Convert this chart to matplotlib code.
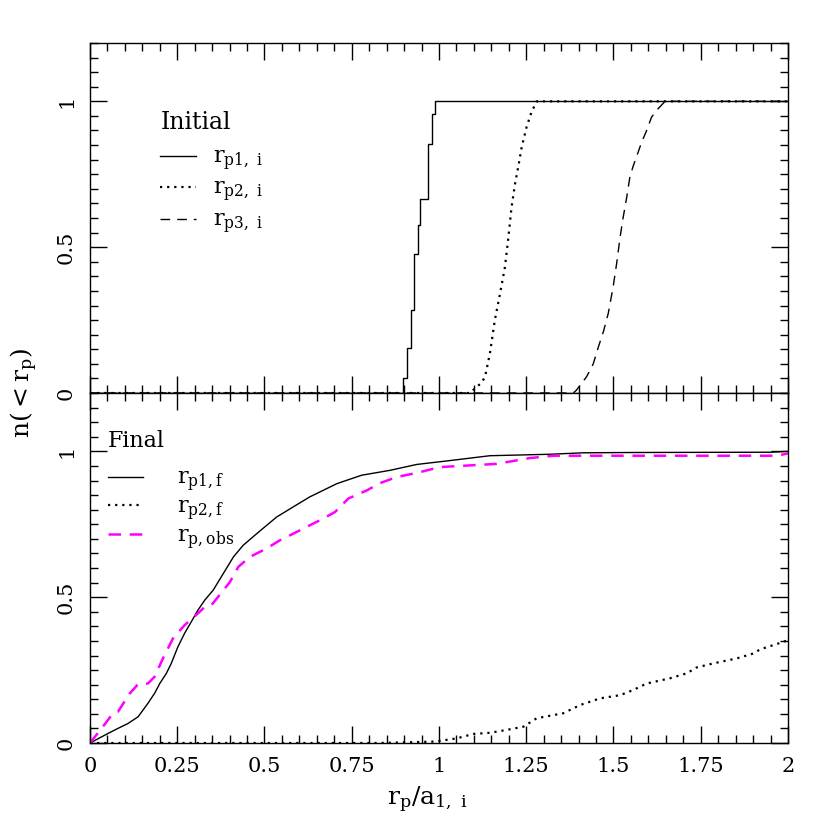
import numpy as np
import matplotlib
matplotlib.use('Agg')
from matplotlib import pyplot as plt
from matplotlib.ticker import MultipleLocator

plt.rcParams['font.family'] = ['DejaVu Serif']
plt.rcParams['mathtext.fontset'] = 'dejavuserif'

# top panel: initial distributions (step positions, cumulative fraction)
p1i_x = [0, 0.898, 0.907, 0.919, 0.928, 0.939, 0.947, 0.969, 0.979, 0.989, 2.0]
p1i_y = [0, 0.05, 0.156, 0.284, 0.478, 0.575, 0.664, 0.855, 0.958, 1.0, 1.0]

p2i_x = [0, 1.09, 1.103, 1.122, 1.132, 1.146, 1.160, 1.175, 1.189, 1.199, 1.208,
         1.218, 1.227, 1.237, 1.251, 1.265, 1.280, 2.0]
p2i_y = [0, 0, 0.016, 0.035, 0.056, 0.136, 0.25, 0.341, 0.432, 0.535, 0.638,
         0.718, 0.775, 0.843, 0.912, 0.963, 1.0, 1.0]

p3i_x = [0, 1.385, 1.394, 1.423, 1.442, 1.457, 1.471, 1.485, 1.499, 1.509, 1.519,
         1.528, 1.538, 1.547, 1.557, 1.566, 1.581, 1.595, 1.609, 1.628, 1.648, 2.0]
p3i_y = [0, 0, 0.01, 0.056, 0.10, 0.159, 0.21, 0.273, 0.364, 0.444, 0.535,
         0.604, 0.672, 0.741, 0.78, 0.81, 0.861, 0.90, 0.946, 0.975, 1.0, 1.0]

# bottom panel: final distributions
p1f_x = [0, 0.052, 0.080, 0.109, 0.138, 0.166, 0.185, 0.200, 0.219, 0.233, 0.252,
         0.271, 0.290, 0.309, 0.329, 0.353, 0.382, 0.411, 0.439, 0.478, 0.535,
         0.583, 0.630, 0.707, 0.778, 0.860, 0.936, 1.022, 1.146, 1.318, 1.414,
         1.55, 1.95, 2.0]
p1f_y = [0, 0.033, 0.050, 0.067, 0.090, 0.136, 0.170, 0.204, 0.239, 0.273, 0.330,
         0.376, 0.415, 0.455, 0.490, 0.524, 0.581, 0.638, 0.678, 0.718, 0.775,
         0.810, 0.844, 0.889, 0.918, 0.935, 0.955, 0.967, 0.985, 0.990, 0.995,
         0.996, 0.997, 1.0]

p2f_x = [0, 0.83, 0.99, 1.051, 1.098, 1.146, 1.194, 1.242, 1.280, 1.356, 1.404,
         1.461, 1.519, 1.557, 1.595, 1.662, 1.710, 1.738, 1.786, 1.853, 1.901,
         1.920, 1.987, 2.0]
p2f_y = [0, 0, 0.005, 0.016, 0.031, 0.035, 0.045, 0.056, 0.085, 0.102, 0.130,
         0.153, 0.164, 0.182, 0.204, 0.222, 0.239, 0.259, 0.273, 0.290, 0.307,
         0.321, 0.347, 0.353]

obs_x = [0, 0.037, 0.066, 0.080, 0.114, 0.138, 0.166, 0.185, 0.209, 0.238, 0.271,
         0.309, 0.329, 0.348, 0.367, 0.401, 0.425, 0.458, 0.506, 0.544, 0.583,
         0.621, 0.669, 0.702, 0.740, 0.793, 0.831, 0.879, 0.936, 1.003, 1.165,
         1.261, 1.33, 1.97, 2.0]
obs_y = [0, 0.056, 0.102, 0.107, 0.170, 0.202, 0.204, 0.227, 0.290, 0.359, 0.404,
         0.444, 0.467, 0.473, 0.501, 0.552, 0.604, 0.638, 0.667, 0.695, 0.718,
         0.741, 0.770, 0.792, 0.838, 0.866, 0.891, 0.912, 0.926, 0.946, 0.957,
         0.977, 0.985, 0.985, 0.993]

xticks = [0, 0.25, 0.5, 0.75, 1, 1.25, 1.5, 1.75, 2]
xtick_labels = ['0', '0.25', '0.5', '0.75', '1', '1.25', '1.5', '1.75', '2']
yticks = [0, 0.5, 1]
ytick_labels = ['0', '0.5', '1']

fig = plt.figure(figsize=(8.3, 8.3), dpi=100)
ax1 = fig.add_axes([0.1084, 0.5265, 0.841, 0.4217])
ax2 = fig.add_axes([0.1084, 0.1048, 0.841, 0.4217], sharex=ax1)

ax1.plot(p1i_x, p1i_y, color='k', lw=1.0, drawstyle='steps-post', label=r'$\mathrm{r_{p1,\ i}}$')
ax1.plot(p2i_x, p2i_y, color='k', lw=1.6, ls=(0, (1, 2.2)), label=r'$\mathrm{r_{p2,\ i}}$')
ax1.plot(p3i_x, p3i_y, color='k', lw=1.0, ls=(0, (7, 5)), label=r'$\mathrm{r_{p3,\ i}}$')

ax2.plot(p1f_x, p1f_y, color='k', lw=1.0, label=r'$\mathrm{r_{p1,f}}$')
ax2.plot(p2f_x, p2f_y, color='k', lw=1.6, ls=(0, (1, 2.2)), label=r'$\mathrm{r_{p2,f}}$')
ax2.plot(obs_x, obs_y, color='magenta', lw=1.8, ls=(0, (5, 3.5)), label=r'$\mathrm{r_{p,obs}}$')

for ax in (ax1, ax2):
    ax.set_xlim(0, 2)
    ax.set_ylim(0, 1.2)
    ax.set_xticks(xticks)
    ax.set_yticks(yticks)
    ax.set_yticklabels(ytick_labels, rotation=90, va='center')
    ax.xaxis.set_minor_locator(MultipleLocator(0.05))
    ax.yaxis.set_minor_locator(MultipleLocator(0.05))
    ax.tick_params(which='both', direction='in', top=True, right=True, width=1.0,
                   labelsize=15, pad=10)
    ax.tick_params(which='major', length=12)
    ax.tick_params(which='minor', length=6)
    for s in ax.spines.values():
        s.set_linewidth(1.0)

ax1.tick_params(labelbottom=False)
ax2.set_xticklabels(xtick_labels)

ax1.text(0.202, 0.929, 'Initial', ha='left', va='center', fontsize=17)
ax1.legend(loc='upper left', bbox_to_anchor=(0.088, 0.730), frameon=False, fontsize=16,
           handlelength=1.6, handletextpad=0.75, labelspacing=0.22, borderaxespad=0)

ax2.text(0.052, 1.035, 'Final', ha='left', va='center', fontsize=16)
ax2.legend(loc='upper left', bbox_to_anchor=(0.013, 0.813), frameon=False, fontsize=16,
           handlelength=1.6, handletextpad=1.5, labelspacing=0.1, borderaxespad=0)

fig.text(24 / 830, 1 - 393 / 830, r'$\mathrm{n({<}r_p)}$', rotation=90, ha='center',
         va='center', fontsize=18)
fig.text(427 / 830, 1 - 800 / 830, r'$\mathrm{r_p/a_{1,\ i}}$', ha='center', va='center',
         fontsize=18)

fig.savefig('out.png', dpi=100)
